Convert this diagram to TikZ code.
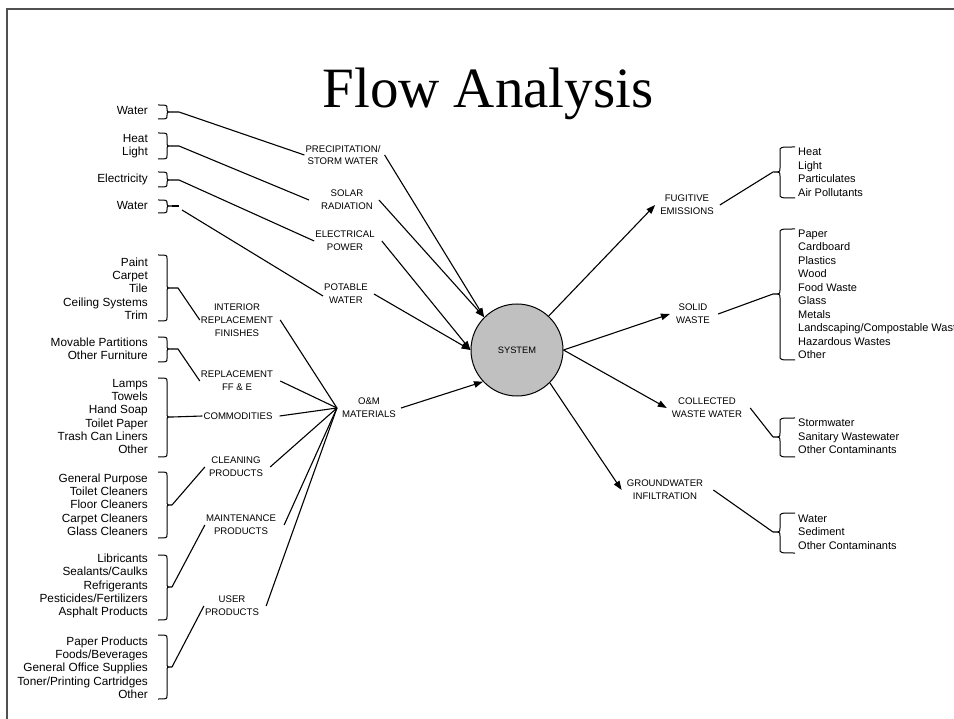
\documentclass[tikz,border=0pt]{standalone}
\usepackage{fontspec}
\setmainfont{Liberation Sans}
\newfontfamily\titlefont{Liberation Serif}
\usetikzlibrary{arrows.meta,calc}
\definecolor{sysgray}{RGB}{192,192,192}
\definecolor{framegray}{RGB}{80,80,80}
\newcommand{\BraceL}[4]{%
 \draw[bracestyle] (158,#2) .. controls (167,#2) .. (167,{#2+3.5}) -- (167,{#3-3.5}) .. controls (167,#3) .. (172,#3) .. controls (167,#3) .. (167,{#3+3.5}) -- (167,{#4-3.5}) .. controls (167,#4) .. (158,#4);
 \coordinate (#1) at (172,#3);}
\newcommand{\BraceR}[4]{%
 \draw[bracestyle] (795,#2) .. controls (780,#2) .. (780,{#2+4}) -- (780,{#3-4}) .. controls (780,#3) .. (773,#3) .. controls (780,#3) .. (780,{#3+4}) -- (780,{#4-4}) .. controls (780,#4) .. (795,#4);
 \coordinate (#1) at (773,#3);}
\begin{document}
\begin{tikzpicture}[x=1pt,y=-1pt,
  lbl/.style={font=\fontsize{9.6}{12.7}\selectfont, align=center, inner sep=1pt},
  litem/.style={font=\fontsize{11.8}{13.3}\selectfont, align=right, anchor=east, inner sep=0pt},
  ritem/.style={font=\fontsize{11}{13.5}\selectfont, align=left, anchor=west, inner sep=0pt},
  conn/.style={line width=1.1pt},
  flow/.style={line width=1.1pt, -{Triangle[length=9pt,width=6.5pt]}},
  bracestyle/.style={line width=1pt}]
\useasboundingbox (0,0) rectangle (954,719);
\draw[framegray, line width=1.3pt] (954,9) -- (7,9) -- (7,719);

\node[font=\titlefont\fontsize{57}{60}\selectfont, anchor=base] (title) at (488,108) {Flow Analysis};

\node[circle, draw, fill=sysgray, line width=1pt, minimum size=92pt, inner sep=0pt, font=\fontsize{9.3}{11}\selectfont] (sys) at (517,350) {SYSTEM};

% labels
\node[lbl] (precip) at (343,155) {PRECIPITATION/\\STORM WATER};
\node[lbl] (solar) at (347,200) {SOLAR\\RADIATION};
\node[lbl] (elec) at (345,241) {ELECTRICAL\\POWER};
\node[lbl] (potable) at (346,294) {POTABLE\\WATER};
\node[lbl] (interior) at (237,320) {INTERIOR\\REPLACEMENT\\FINISHES};
\node[lbl] (replff) at (237,381) {REPLACEMENT\\FF \& E};
\node[lbl] (commod) at (238,416) {COMMODITIES};
\node[lbl] (cleaning) at (236,467) {CLEANING\\PRODUCTS};
\node[lbl] (maint) at (241,525) {MAINTENANCE\\PRODUCTS};
\node[lbl] (user) at (232,606) {USER\\PRODUCTS};
\node[lbl] (om) at (369,408) {O\&M\\MATERIALS};
\node[lbl] (fug) at (687,205) {FUGITIVE\\EMISSIONS};
\node[lbl] (solid) at (693,314) {SOLID\\WASTE};
\node[lbl] (coll) at (707,408) {COLLECTED\\WASTE WATER};
\node[lbl] (ground) at (665,490) {GROUNDWATER\\INFILTRATION};

% left lists
\node[litem] (l1) at (148,111) {Water};
\node[litem] (l2) at (148,146) {Heat\\Light};
\node[litem] (l3) at (148,179) {Electricity};
\node[litem] (l4) at (148,206) {Water};
\node[litem] (l5) at (148,288.5) {Paint\\Carpet\\Tile\\Ceiling Systems\\Trim};
\node[litem] (l6) at (148,348.5) {Movable Partitions\\Other Furniture};
\node[litem] (l7) at (148,416.5) {Lamps\\Towels\\Hand Soap\\Toilet Paper\\Trash Can Liners\\Other};
\node[litem] (l8) at (148,504.5) {General Purpose\\Toilet Cleaners\\Floor Cleaners\\Carpet Cleaners\\Glass Cleaners};
\node[litem] (l9) at (148,586) {Libricants\\Sealants/Caulks\\Refrigerants\\Pesticides/Fertilizers\\Asphalt Products};
\node[litem] (l10) at (148,667.5) {Paper Products\\Foods/Beverages\\General Office Supplies\\Toner/Printing Cartridges\\Other};

% right lists
\node[ritem] (r1) at (798,172.5) {Heat\\Light\\Particulates\\Air Pollutants};
\node[ritem] (r2) at (798,294.5) {Paper\\Cardboard\\Plastics\\Wood\\Food Waste\\Glass\\Metals\\Landscaping/Compostable Waste\\Hazardous Wastes\\Other};
\node[ritem] (r3) at (798,436.5) {Stormwater\\Sanitary Wastewater\\Other Contaminants};
\node[ritem] (r4) at (798,532) {Water\\Sediment\\Other Contaminants};

% braces
\BraceL{b1}{105}{112}{119}
\BraceL{b2}{133}{146}{159}
\BraceL{b3}{172}{180}{187}
\BraceL{b4}{200}{206}{213}
\BraceL{b5}{255}{288}{321}
\BraceL{b6}{337}{349}{362}
\BraceL{b7}{378}{417}{457}
\BraceL{b8}{472}{505}{538}
\BraceL{b9}{555}{587}{620}
\BraceL{b10}{635}{667}{699}
\BraceR{c1}{147}{172}{198}
\BraceR{c2}{229}{294}{360}
\BraceR{c3}{418}{437}{457}
\BraceR{c4}{513}{532}{553}

% left connectors
\draw[conn] (b1) -- ++(7,0) -- (precip.west);
\draw[conn] (b2) -- ++(7,0) -- ([xshift=-11pt]solar.west);
\draw[conn] (b3) -- ++(7,0) -- (elec.west);
\draw[conn] (b4) -- ++(7,0);
\draw[conn] ([shift={(10,4)}]b4) -- ([yshift=-2pt]potable.west);
\draw[conn] (b5) -- ++(6,0) -- (interior.west);
\draw[conn] (b6) -- ++(6,0) -- (replff.west);
\draw[conn] (b7) -- (commod.west);
\draw[conn] (b8) -- ([xshift=-3pt]cleaning.west);
\draw[conn] (b9) -- (maint.west);
\draw[conn] (b10) -- (user.west);

\coordinate (hub) at ([xshift=-4pt]om.west);
\draw[conn] ([xshift=6pt]interior.east) -- (hub);
\draw[conn] ([xshift=6pt]replff.east) -- (hub);
\draw[conn] ([xshift=6pt]commod.east) -- (hub);
\draw[conn] ([xshift=6pt]cleaning.east) -- (hub);
\draw[conn] ([xshift=7pt]maint.east) -- (hub);
\draw[conn] ([xshift=6pt]user.east) -- (hub);

% into system
\draw[flow] ([xshift=3pt]precip.east) -- (sys.135);
\draw[flow] ([xshift=5pt]solar.east) -- (sys.135);
\draw[flow] ([xshift=6pt]elec.east) -- (sys.west);
\draw[flow] ([xshift=5pt]potable.east) -- (sys.west);
\draw[flow] ([xshift=4pt]om.east) -- (sys.223);

% out of system
\draw[flow] (sys.47) -- ([xshift=-4pt]fug.west);
\draw[flow] (sys.east) -- ([xshift=-5pt]solid.west);
\draw[flow] (sys.east) -- ([xshift=-4pt]coll.west);
\draw[flow] (sys.-45) -- ([xshift=-4pt]ground.west);
\draw[conn] ([xshift=5pt]fug.east) -- (c1);
\draw[conn] ([xshift=7pt]solid.east) -- (c2);
\draw[conn] ([xshift=7pt]coll.east) -- (c3);
\draw[conn] ([xshift=9pt]ground.east) -- (c4);
\end{tikzpicture}
\end{document}
